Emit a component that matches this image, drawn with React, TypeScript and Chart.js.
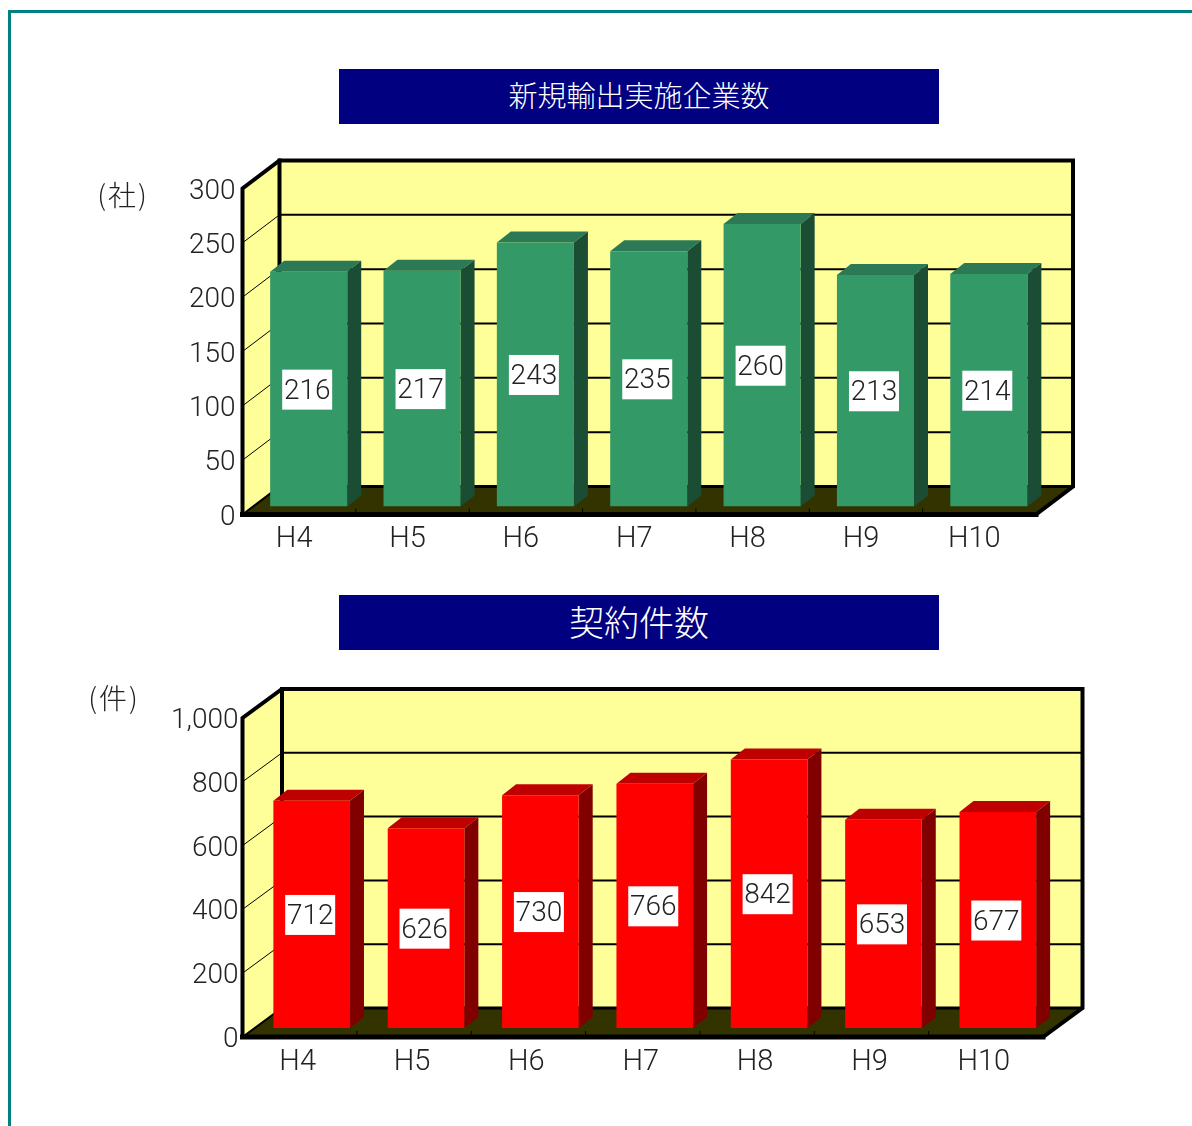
import React, { useEffect, useRef } from "react";
import { Chart, registerables } from "chart.js";

Chart.register(...registerables);

const fiscalYears = ["H4", "H5", "H6", "H7", "H8", "H9", "H10"];
const exporterCounts = [216, 217, 243, 235, 260, 213, 214];
const contractCounts = [712, 626, 730, 766, 842, 653, 677];

const LABEL_FONT = "300 28px Roboto, sans-serif";

type PanelStyle = {
  title: string;
  titleTop: number;
  titleSize: number;
  unit: string;
  unitX: number;
  unitY: number;
  top: number;
  height: number;
  left: number;
  right: number;
  plotTop: number;
  plotBottom: number;
  max: number;
  step: number;
  values: number[];
  depth: [number, number];
  barShift: [number, number];
  barPct: number;
  front: string;
  roof: string;
  side: string;
  labelOffset: number;
  tickGap: number;
};

const panels: PanelStyle[] = [
  {
    title: "新規輸出実施企業数",
    titleTop: 69,
    titleSize: 29,
    unit: "(社)",
    unitX: 123,
    unitY: 195,
    top: 130,
    height: 450,
    left: 242.5,
    right: 1036,
    plotTop: 188.5,
    plotBottom: 514.5,
    max: 300,
    step: 50,
    values: exporterCounts,
    depth: [37, -28],
    barShift: [9.5, -8],
    barPct: 0.68,
    front: "#339966",
    roof: "#2b7a55",
    side: "#1b4d35",
    labelOffset: -5,
    tickGap: -1,
  },
  {
    title: "契約件数",
    titleTop: 595,
    titleSize: 35,
    unit: "(件)",
    unitX: 114,
    unitY: 698,
    top: 655,
    height: 425,
    left: 242.5,
    right: 1043,
    plotTop: 718,
    plotBottom: 1037,
    max: 1000,
    step: 200,
    values: contractCounts,
    depth: [39.5, -29],
    barShift: [12, -9],
    barPct: 0.67,
    front: "#ff0000",
    roof: "#bf0000",
    side: "#800000",
    labelOffset: -2,
    tickGap: -4,
  },
];

function poly(ctx: CanvasRenderingContext2D, pts: number[][], fill: string) {
  ctx.beginPath();
  pts.forEach(([x, y], i) => (i ? ctx.lineTo(x, y) : ctx.moveTo(x, y)));
  ctx.closePath();
  ctx.fillStyle = fill;
  ctx.fill();
}

function line(ctx: CanvasRenderingContext2D, pts: number[][], width: number) {
  ctx.beginPath();
  pts.forEach(([x, y], i) => (i ? ctx.lineTo(x, y) : ctx.moveTo(x, y)));
  ctx.lineWidth = width;
  ctx.strokeStyle = "#000";
  ctx.lineCap = "square";
  ctx.stroke();
}

// Draws the box around the plot, extruded bars and the boxed value labels.
function extrudedPlot(p: PanelStyle) {
  const [dx, dy] = p.depth;
  const [sx, sy] = p.barShift;
  return {
    id: "extrudedPlot",
    beforeDatasetsDraw(chart: Chart) {
      const { ctx, chartArea: a, scales } = chart;
      const y = scales.y;
      const x = scales.x;
      ctx.save();
      // back wall and left wall
      poly(ctx, [[a.left + dx, a.top + dy], [a.right + dx, a.top + dy], [a.right + dx, a.bottom + dy], [a.left + dx, a.bottom + dy]], "#ffff99");
      poly(ctx, [[a.left, a.top], [a.left + dx, a.top + dy], [a.left + dx, a.bottom + dy], [a.left, a.bottom]], "#ffff99");
      // floor
      poly(ctx, [[a.left, a.bottom], [a.left + dx, a.bottom + dy], [a.right + dx, a.bottom + dy], [a.right, a.bottom]], "#333300");
      // grid lines on both walls
      for (const t of y.ticks) {
        const py = y.getPixelForValue(t.value);
        if (t.value === p.max || t.value === 0) continue;
        line(ctx, [[a.left + dx, py + dy], [a.right + dx, py + dy]], 2);
        ctx.lineCap = "butt";
        ctx.beginPath();
        ctx.moveTo(a.left, py);
        ctx.lineTo(a.left + dx, py + dy);
        ctx.lineWidth = 1;
        ctx.stroke();
      }
      // heavy outline
      line(ctx, [[a.left, a.bottom], [a.left, a.top], [a.left + dx, a.top + dy], [a.right + dx, a.top + dy], [a.right + dx, a.bottom + dy], [a.right, a.bottom], [a.left, a.bottom]], 4);
      line(ctx, [[a.left + dx, a.top + dy], [a.left + dx, a.bottom + dy]], 4);
      line(ctx, [[a.left + dx, a.bottom + dy], [a.right + dx, a.bottom + dy]], 3);
      line(ctx, [[a.left, a.bottom], [a.right, a.bottom]], 5);
      line(ctx, [[a.left, a.bottom], [a.left + dx, a.bottom + dy]], 2);
      // category separators standing on the front edge
      ctx.lineCap = "butt";
      for (let i = 1; i < x.ticks.length; i++) {
        const px = (x.getPixelForValue(i - 1) + x.getPixelForValue(i)) / 2;
        ctx.beginPath();
        ctx.moveTo(px, a.bottom);
        ctx.lineTo(px, a.bottom - 6);
        ctx.lineWidth = 1;
        ctx.stroke();
      }
      ctx.fillStyle = "#222";
      ctx.font = "300 28px 'Noto Sans CJK JP', sans-serif";
      (ctx as any).letterSpacing = "2px";
      ctx.textAlign = "center";
      ctx.textBaseline = "middle";
      ctx.fillText(p.unit, p.unitX, p.unitY - p.top);
      ctx.restore();
    },
    beforeDatasetDraw(chart: Chart) {
      const { ctx } = chart;
      // roof and side faces sit behind the front faces the bar controller paints
      ctx.save();
      ctx.translate(sx, sy);
      for (const bar of chart.getDatasetMeta(0).data as any[]) {
        const l = bar.x - bar.width / 2;
        const r = bar.x + bar.width / 2;
        poly(ctx, [[l, bar.y], [l + 14, bar.y - 11], [r + 14, bar.y - 11], [r, bar.y]], p.roof);
        poly(ctx, [[r, bar.y], [r + 14, bar.y - 11], [r + 14, bar.base - 11], [r, bar.base]], p.side);
      }
    },
    afterDatasetDraw(chart: Chart) {
      chart.ctx.restore();
    },
    afterDatasetsDraw(chart: Chart) {
      const { ctx } = chart;
      const meta = chart.getDatasetMeta(0);
      ctx.save();
      ctx.font = LABEL_FONT;
      ctx.textAlign = "center";
      ctx.textBaseline = "middle";
      meta.data.forEach((bar: any, i: number) => {
        const cx = bar.x + sx - 1.5;
        const cy = (bar.y + bar.base) / 2 + sy + 0.5;
        ctx.fillStyle = "#fff";
        ctx.fillRect(cx - 25, cy - 20, 50, 40);
        ctx.fillStyle = "#222";
        ctx.fillText(String(p.values[i]), cx, cy + 2);
      });
      ctx.restore();
    },
  };
}

function Panel({ p }: { p: PanelStyle }) {
  const ref = useRef<HTMLCanvasElement>(null);
  useEffect(() => {
    const chart = new Chart(ref.current!, {
      type: "bar",
      data: {
        labels: fiscalYears,
        datasets: [
          {
            data: p.values,
            backgroundColor: p.front,
            borderWidth: 0,
            categoryPercentage: 1,
            barPercentage: p.barPct,
          },
        ],
      },
      options: {
        animation: false,
        responsive: false,
        events: [],
        layout: {
          padding: { left: 0, top: p.plotTop - p.top, right: 1192 - p.right, bottom: 0 },
        },
        plugins: { legend: { display: false }, tooltip: { enabled: false }, title: { display: false } },
        scales: {
          x: {
            grid: { display: false },
            border: { display: false },
            ticks: {
              color: "#222",
              font: { family: "Roboto, sans-serif", size: 29, weight: "300" },
              padding: 0,
              labelOffset: p.labelOffset,
              maxRotation: 0,
              autoSkip: false,
            },
            afterFit(scale: any) {
              scale.height = p.top + p.height - p.plotBottom;
            },
          },
          y: {
            min: 0,
            max: p.max,
            grid: { display: false },
            border: { display: false },
            ticks: {
              stepSize: p.step,
              color: "#222",
              font: { family: "Roboto, sans-serif", size: 28, weight: "300" },
              padding: p.tickGap,
              labelOffset: 3,
              callback: (v: any) => Number(v).toLocaleString("en-US"),
            },
            afterFit(scale: any) {
              scale.width = p.left;
            },
          },
        },
      },
      plugins: [extrudedPlot(p)],
    } as any);
    return () => chart.destroy();
  }, [p]);
  return (
    <canvas
      ref={ref}
      width={1192}
      height={p.height}
      style={{ position: "absolute", left: 0, top: p.top, width: 1192, height: p.height }}
    />
  );
}

export default function App() {
  return (
    <div style={{ position: "absolute", left: 0, top: 0, width: 1192, height: 1126, overflow: "hidden", background: "#fff" }}>
      <div
        style={{
          position: "absolute",
          left: 8,
          top: 10,
          right: 0,
          bottom: 0,
          borderTop: "3.5px solid #008080",
          borderLeft: "3.5px solid #008080",
        }}
      />
      {panels.map((p) => (
        <React.Fragment key={p.title}>
          <div
            style={{
              position: "absolute",
              left: 339,
              top: p.titleTop,
              width: 600,
              height: 55,
              background: "#000080",
              color: "#fff",
              font: `300 ${p.titleSize}px 'Noto Sans CJK JP', sans-serif`,
              lineHeight: "51px",
              textAlign: "center",
              whiteSpace: "nowrap",
            }}
          >
            {p.title}
          </div>
          <Panel p={p} />
        </React.Fragment>
      ))}
    </div>
  );
}
